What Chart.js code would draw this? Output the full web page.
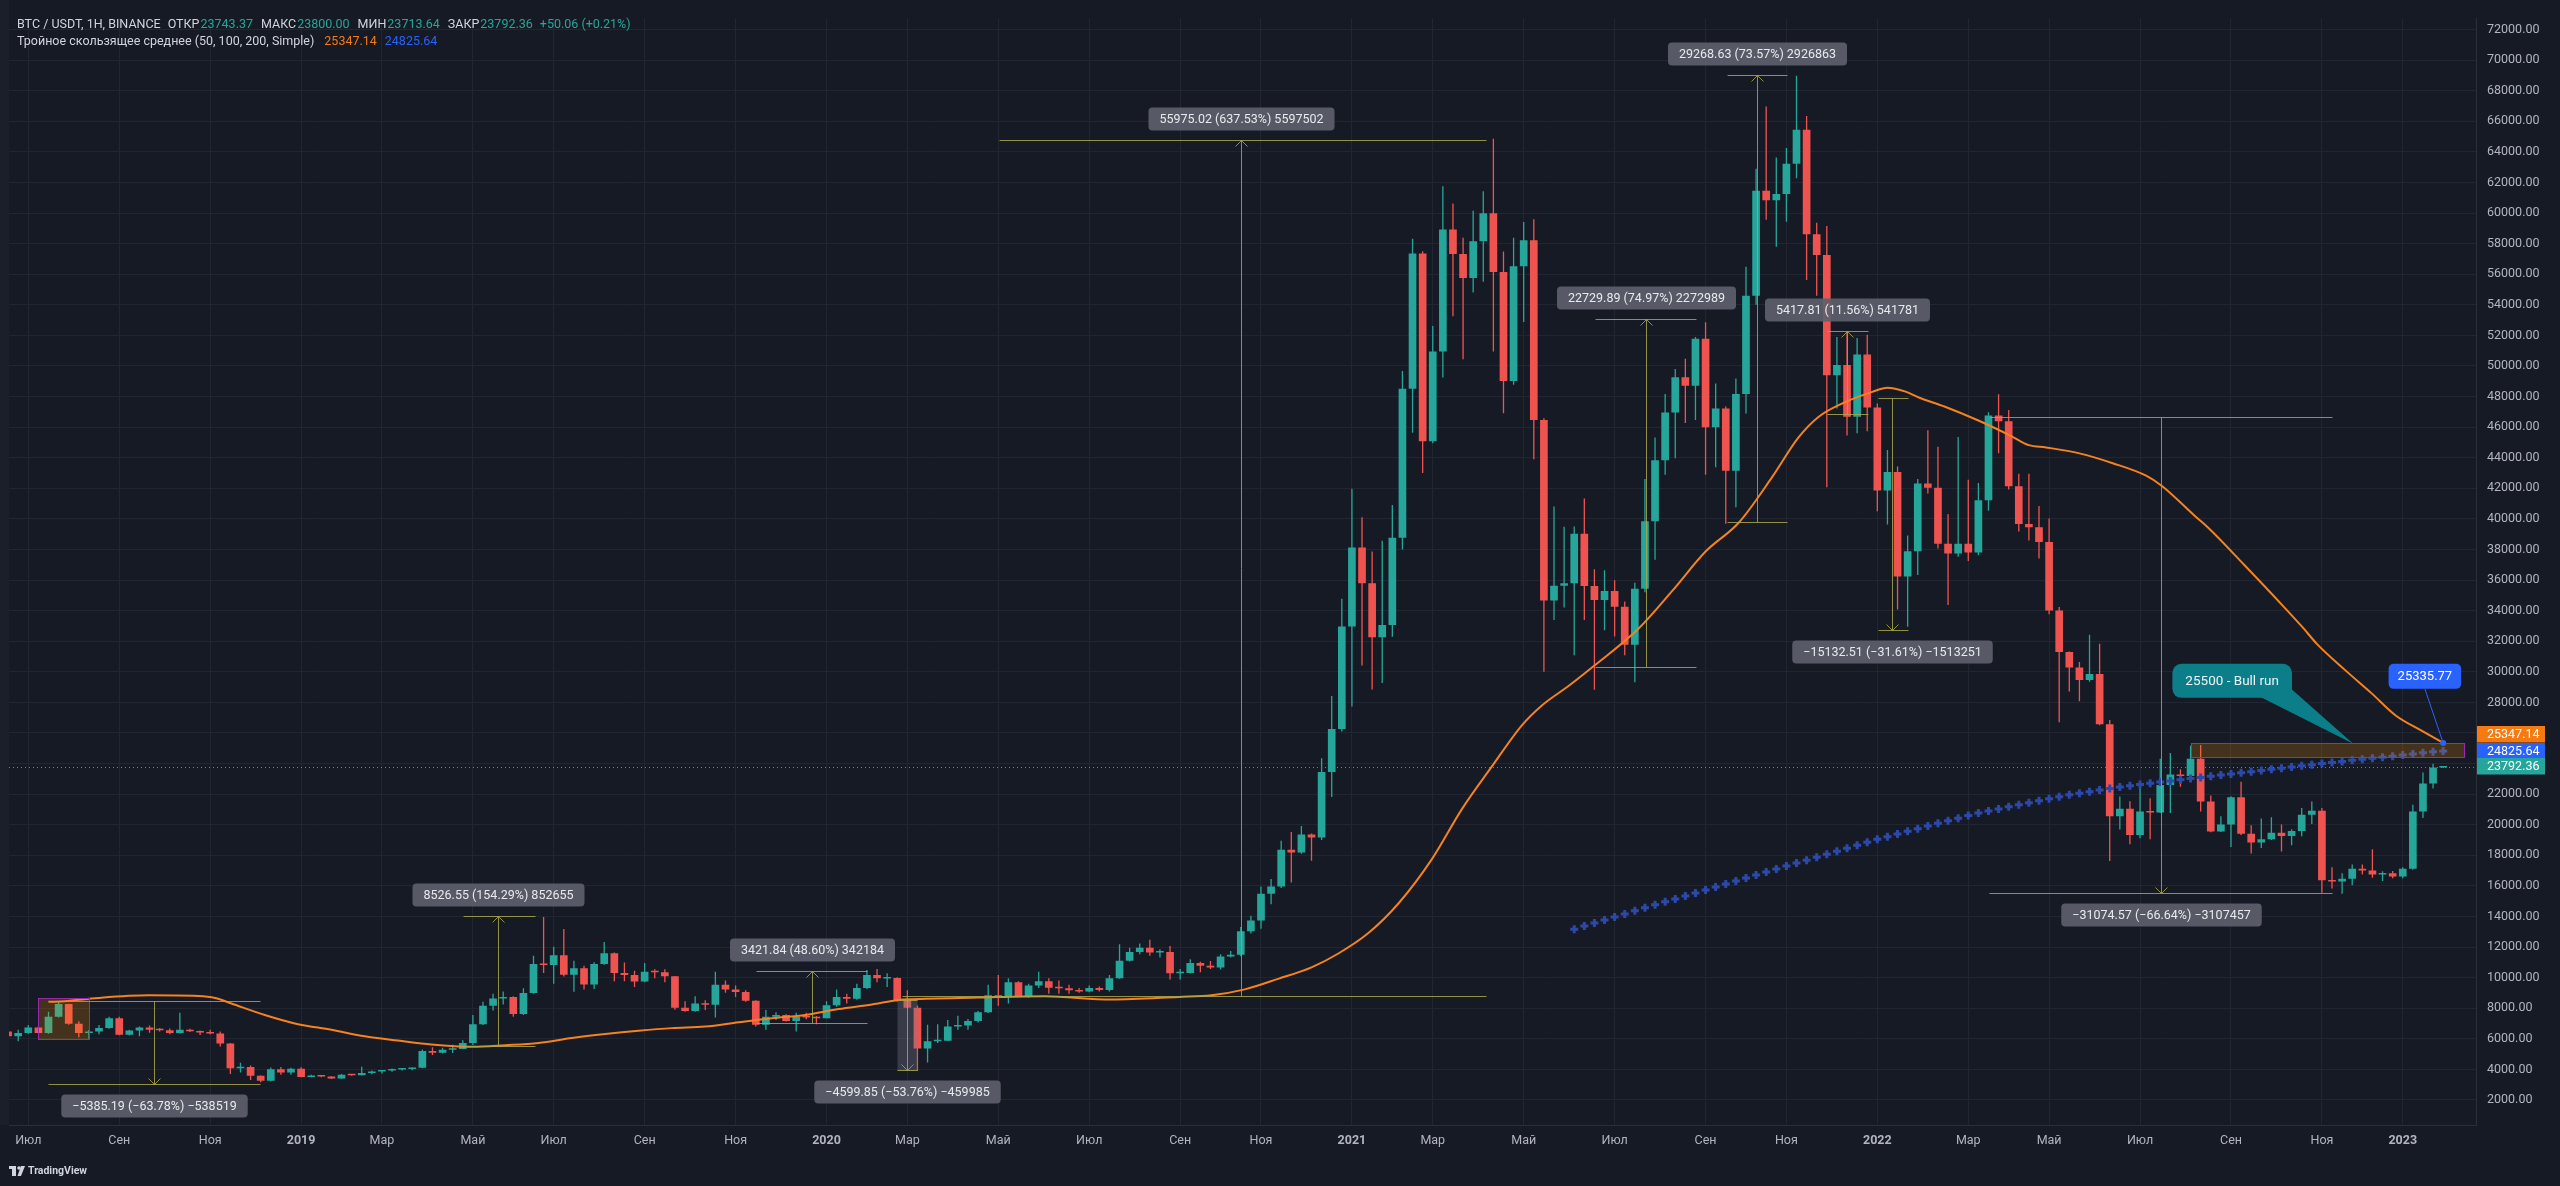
<!DOCTYPE html>
<html>
<head>
<meta charset="utf-8">
<script src="https://cdn.jsdelivr.net/npm/chart.js@4.4.1/dist/chart.umd.min.js"></script>
<style>
  html, body { margin: 0; padding: 0; background: #161a25; overflow: hidden; }
  canvas { display: block; }
</style>
</head>
<body>
<canvas id="chart" width="2560" height="1186"></canvas>
<script>
// BTC/USDT weekly candles, week 0 = 2018-06-18, one entry per week
const opens = [
  6480, 6160, 6380, 6740, 6380, 7450, 8270, 6980, 6380, 6480,
  6700, 7340, 6270, 6550, 6740, 6600, 6560, 6380, 6600, 6500,
  6420, 6350, 5690, 4080, 4160, 3585, 3260, 4010, 3800, 4040,
  3500, 3560, 3530, 3410, 3650, 3620, 3760, 3860, 3920, 3990,
  4020, 4100, 5195, 5090, 5290, 5330, 5730, 6957, 8159, 8630,
  8740, 7630, 9000, 10900, 10820, 11467, 10190, 10608, 9555, 10900,
  11596, 10307, 10178, 9748, 10393, 10350, 10092, 8030, 7820, 8310,
  8230, 9534, 9233, 9061, 8482, 6913, 7450, 7558, 7171, 7450,
  7390, 7350, 8200, 8740, 8620, 9319, 10178, 9950, 9970, 8524,
  8030, 5367, 5839, 5880, 6806, 6870, 7171, 7730, 8847, 8725,
  9706, 8804, 9491, 9770, 9341, 9300, 9169, 9100, 9319, 9200,
  9963, 11102, 11682, 11961, 11639, 11682, 10286, 10307, 10952, 10780,
  10670, 11381, 11500, 13035, 13744, 15480, 15960, 18370, 18180, 19360,
  19170, 23440, 26261, 32963, 38125, 35784, 32258, 33059, 38766, 48512,
  57361, 45081, 50948, 58931, 57329, 55758, 58162, 59990, 56142, 49025,
  56527, 58226, 46460, 34662, 35624, 35784, 39032, 35615, 34692, 35288,
  34258, 31763, 35424, 39844, 43831, 46949, 49254, 48712, 51778, 46000,
  47221, 43153, 48170, 54598, 61459, 60835, 61242, 63222, 65446, 58611,
  57255, 49391, 50069, 46678, 50746, 47276, 41851, 43071, 36237, 37884,
  42309, 42030, 38378, 37734, 38378, 37798, 41213, 46755, 46390, 42137,
  39667, 39452, 38485, 34017, 31290, 30280, 29464, 29849, 26564, 20550,
  21044, 19326, 20873, 20800, 22590, 23279, 23193, 24310, 21518, 19550,
  20014, 21797, 19413, 18833, 19047, 19477, 19262, 19584, 20658, 20916,
  16362, 16280, 16469, 17114, 17006, 16749, 16835, 16620, 17114, 20873,
  22699, 23743
];
const highs = [
  6560, 6590, 6910, 6800, 7770, 8420, 8300, 7150, 6600, 6910,
  7450, 7450, 6600, 6800, 6870, 6700, 6680, 7700, 6650, 6550,
  6600, 6480, 5720, 4440, 4250, 3600, 4120, 4160, 4100, 4140,
  3650, 3640, 3560, 3700, 3700, 4170, 3920, 3950, 4060, 4090,
  4130, 5300, 5450, 5420, 5620, 5900, 7560, 8420, 8954, 9100,
  8790, 9300, 11424, 13970, 12026, 13186, 11100, 10780, 11000, 12326,
  11640, 10995, 10457, 10952, 10550, 10550, 10100, 8460, 8782, 8525,
  10393, 9813, 9491, 9170, 8525, 7880, 7730, 7600, 7700, 7700,
  7500, 8460, 9233, 8950, 9599, 10500, 10565, 10286, 10030, 9169,
  8180, 6913, 6957, 7236, 7515, 7300, 7816, 9534, 10178, 9963,
  9770, 9599, 10393, 9963, 9813, 9534, 9319, 9491, 9420, 10178,
  12176, 11961, 12240, 12486, 11850, 12069, 10560, 11210, 11040, 11090,
  11530, 11740, 13314, 14045, 15960, 16452, 18953, 19530, 19915, 19420,
  24339, 28422, 34778, 41971, 40113, 37868, 38573, 40914, 49666, 58322,
  57500, 52616, 61753, 60630, 58386, 60149, 61432, 64854, 57489, 58386,
  59412, 59590, 46589, 40818, 39491, 39500, 41330, 36700, 36644, 35990,
  34590, 35831, 42610, 45323, 48170, 49798, 50475, 51886, 52862, 48848,
  47357, 49174, 56496, 62896, 66964, 63629, 64252, 68971, 66341, 59371,
  59154, 51886, 52238, 51832, 52048, 47550, 44509, 43426, 38915, 42610,
  45789, 44715, 40311, 45359, 42567, 42352, 46970, 48152, 47120, 42953,
  42953, 40848, 40032, 34233, 31330, 30646, 32428, 31827, 26844, 21839,
  21540, 22418, 21731, 24309, 24696, 23623, 25169, 25212, 21905, 20552,
  21860, 22806, 19960, 20401, 20487, 20014, 19700, 21088, 21518, 21088,
  17222, 16835, 17394, 17394, 18403, 16950, 16970, 17220, 21303, 23408,
  23988, 23800
];
const lows = [
  6100, 5840, 6330, 6350, 6330, 7400, 6915, 6100, 6000, 6300,
  6650, 6225, 6220, 6160, 6400, 6480, 6300, 6340, 6450, 6250,
  6300, 5500, 3700, 3800, 3305, 3160, 3220, 3650, 3650, 3480,
  3480, 3480, 3380, 3390, 3590, 3600, 3680, 3730, 3850, 3930,
  3940, 4080, 4940, 5040, 5080, 5330, 5600, 6900, 7850, 8245,
  7450, 7560, 8950, 10300, 9600, 10080, 9070, 9233, 9250, 10850,
  9770, 9770, 9384, 9700, 9960, 9700, 7900, 7773, 7770, 7880,
  7386, 9018, 8740, 8417, 6800, 6591, 7236, 7128, 6484, 7280,
  6957, 7340, 8100, 8310, 8560, 9260, 9706, 9384, 8417, 8000,
  3900, 4443, 5732, 5860, 6591, 6591, 7064, 7680, 8159, 8310,
  8740, 8680, 9320, 8954, 8954, 8954, 9018, 9050, 9100, 9100,
  9920, 11050, 11530, 11430, 11320, 9878, 9880, 10270, 10350, 10560,
  10530, 11320, 11400, 12890, 13200, 14800, 15870, 16227, 18100, 17650,
  19000, 21815, 26100, 27734, 30420, 28850, 29276, 32300, 37990, 45627,
  43000, 44950, 49249, 53257, 50436, 54796, 55501, 50948, 46909, 48768,
  52872, 43895, 30000, 33380, 34202, 31085, 33389, 28834, 32712, 32306,
  31085, 29322, 35200, 37322, 42882, 43967, 46272, 46461, 42882, 43370,
  39683, 40768, 46895, 54001, 59561, 57798, 59425, 62273, 55628, 54598,
  42068, 47221, 45458, 45594, 45730, 40497, 39629, 34082, 32944, 36337,
  41664, 38056, 34362, 37519, 37240, 37627, 40526, 44285, 41922, 39173,
  38593, 37412, 33760, 26700, 28712, 28068, 29357, 26500, 17622, 19691,
  18724, 19112, 19047, 20765, 20765, 22484, 22800, 20873, 19500, 19520,
  18540, 19320, 18124, 18470, 19000, 18253, 18650, 19250, 20050, 15546,
  15826, 15480, 16040, 16749, 16534, 16319, 16500, 16500, 17050, 20443,
  22377, 23713
];
const closes = [
  6160, 6380, 6740, 6380, 7450, 8270, 6980, 6380, 6480, 6700,
  7340, 6270, 6550, 6740, 6600, 6560, 6380, 6600, 6500, 6420,
  6350, 5690, 4080, 4160, 3585, 3260, 4010, 3800, 4040, 3500,
  3560, 3530, 3410, 3650, 3620, 3760, 3860, 3920, 3990, 4020,
  4100, 5195, 5090, 5290, 5330, 5730, 6957, 8159, 8630, 8740,
  7630, 9000, 10900, 10820, 11467, 10190, 10608, 9555, 10900, 11596,
  10307, 10178, 9748, 10393, 10350, 10092, 8030, 7820, 8310, 8230,
  9534, 9233, 9061, 8482, 6913, 7450, 7558, 7171, 7450, 7390,
  7350, 8200, 8740, 8620, 9319, 10178, 9963, 9970, 8524, 8030,
  5367, 5839, 5880, 6806, 6870, 7171, 7730, 8847, 8725, 9706,
  8804, 9491, 9770, 9341, 9300, 9169, 9100, 9319, 9200, 9963,
  11102, 11682, 11961, 11639, 11682, 10286, 10307, 10952, 10780, 10670,
  11381, 11500, 13035, 13744, 15480, 15960, 18370, 18180, 19360, 19170,
  23440, 26261, 32963, 38125, 35784, 32258, 33059, 38766, 48512, 57361,
  45081, 50948, 58931, 57329, 55758, 58162, 59990, 56142, 49025, 56527,
  58226, 46460, 34662, 35624, 35784, 39032, 35615, 34692, 35288, 34258,
  31763, 35424, 39844, 43831, 46949, 49254, 48712, 51778, 46000, 47221,
  43153, 48170, 54598, 61459, 60835, 61242, 63222, 65446, 58611, 57255,
  49391, 50069, 46678, 50746, 47276, 41851, 43071, 36237, 37884, 42309,
  42030, 38378, 37734, 38378, 37798, 41213, 46755, 46390, 42137, 39667,
  39452, 38485, 34017, 31290, 30280, 29464, 29849, 26564, 20550, 21044,
  19326, 20873, 20800, 22590, 23279, 23193, 24310, 21518, 19550, 20014,
  21797, 19413, 18833, 19047, 19477, 19262, 19584, 20658, 20916, 16362,
  16280, 16469, 17114, 17006, 16749, 16835, 16620, 17114, 20873, 22699,
  23743, 23792
];

// moving average 50 (orange), read at these week positions
const ma50Weeks = [
  4, 5.6, 8.9, 13.9, 18.8, 20.5, 22.1, 25.4, 28.7, 32,
  35.3, 38.6, 41.9, 45.9, 49.2, 52.5, 55.8, 59.1, 62.4, 65.7,
  69, 72.3, 75.6, 78.9, 82.2, 85.5, 88.1, 89.4, 96, 102.6,
  109.2, 115.9, 119.1, 122.4, 125.7, 129, 131.7, 134.6, 137.6, 140.9,
  143.9, 146.8, 149.8, 151.8, 154.5, 157, 161.4, 164.7, 168, 171.3,
  174.6, 177.2, 179.2, 181.8, 184.5, 186, 187.8, 189.1, 191.7, 195,
  198.3, 200, 201.7, 205, 208.3, 211.6, 213.2, 216.4, 217.8, 221.3,
  225.3, 227.1, 228.5, 231.3, 233.9, 236.3, 238.9, 241
];
const ma50Values = [
  8420, 8460, 8675, 8847, 8804, 8675, 8310, 7558, 6957, 6592,
  6162, 5883, 5625, 5474, 5582, 5732, 6054, 6312, 6527, 6699,
  6806, 7085, 7343, 7558, 7945, 8245, 8540, 8589, 8696, 8782,
  8567, 8739, 8847, 9233, 9920, 10673, 11596, 12900, 14850, 17735,
  21036, 23762, 26487, 27800, 29100, 30407, 32847, 35288, 37865, 39764,
  42747, 45323, 46678, 47628, 48306, 48577, 48323, 47937, 47335, 46433,
  45402, 44822, 44672, 44285, 43641, 42824, 42137, 40204, 39387, 37000,
  34200, 32902, 31828, 30110, 28606, 27146, 26136, 25347
];

// moving average 200 (blue crosses), one value per week from week 155
const ma200Start = 155;
const ma200Values = [
  13170, 13370, 13570, 13770, 13970, 14170, 14370, 14565, 14760, 14955,
  15150, 15345, 15540, 15735, 15930, 16125, 16320, 16515, 16710, 16905,
  17100, 17295, 17490, 17685, 17880, 18075, 18270, 18465, 18660, 18855,
  19046, 19220, 19395, 19570, 19745, 19920, 20090, 20260, 20430, 20600,
  20765, 20900, 21035, 21170, 21305, 21440, 21570, 21700, 21830, 21955,
  22053, 22160, 22270, 22375, 22460, 22545, 22630, 22710, 22790, 22865,
  22945, 23021, 23095, 23170, 23245, 23320, 23395, 23470, 23545, 23620,
  23700, 23775, 23850, 23925, 24000, 24070, 24140, 24210, 24280, 24350,
  24415, 24482, 24555, 24628, 24700, 24772, 24826
];

// axis labels
const tickWeeks = [2, 11, 20, 29, 37, 46, 54, 63, 72, 81, 89, 98, 107, 116, 124, 133, 141, 150, 159, 168, 176, 185, 194, 202, 211, 220, 229, 237];
const tickLabels = ['Июл', 'Сен', 'Ноя', '2019', 'Мар', 'Май', 'Июл', 'Сен', 'Ноя', '2020', 'Мар', 'Май', 'Июл', 'Сен', 'Ноя', '2021', 'Мар', 'Май', 'Июл', 'Сен', 'Ноя', '2022', 'Мар', 'Май', 'Июл', 'Сен', 'Ноя', '2023'];
const priceTicks = [2000, 4000, 6000, 8000, 10000, 12000, 14000, 16000, 18000, 20000, 22000, 24000,
  26000, 28000, 30000, 32000, 34000, 36000, 38000, 40000, 42000, 44000, 46000, 48000,
  50000, 52000, 54000, 56000, 58000, 60000, 62000, 64000, 66000, 68000, 70000, 72000];

// drawings on the chart (price range tools, zones, callouts), in week / price units
const rangeTools = [
  { x0: 3.95, x1: 24.9, xm: 14.4, top: 8443, bot: 3058, dir: 'down', text: '\u22125385.19 (\u221263.78%) \u2212538519' },
  { x0: 45.0, x1: 52.1, xm: 48.5, top: 14053, bot: 5526, dir: 'up', text: '8526.55 (154.29%) 852655' },
  { x0: 74.0, x1: 85.0, xm: 79.6, top: 10463, bot: 7041, dir: 'up', text: '3421.84 (48.60%) 342184' },
  { x0: 88.0, x1: 90.0, xm: 89.0, top: 8556, bot: 3956, dir: 'down', shade: true, text: '\u22124599.85 (\u221253.76%) \u2212459985' },
  { x0: 98.1, x1: 146.3, xm: 122.0, top: 64755, bot: 8780, bx0: 88.5, dir: 'up', text: '55975.02 (637.53%) 5597502' },
  { x0: 157.1, x1: 167.1, xm: 162.1, top: 53048, bot: 30318, dir: 'up', text: '22729.89 (74.97%) 2272989' },
  { x0: 170.1, x1: 176.1, xm: 173.1, top: 69052, bot: 39783, dir: 'up', text: '29268.63 (73.57%) 2926863' },
  { x0: 180.0, x1: 184.1, xm: 182.0, top: 52285, bot: 46867, dir: 'up', text: '5417.81 (11.56%) 541781' },
  { x0: 185.1, x1: 188.0, xm: 186.5, top: 47873, bot: 32740, dir: 'down', text: '\u221215132.51 (\u221231.61%) \u22121513251' },
  { x0: 196.1, x1: 230.0, xm: 213.1, top: 46631, bot: 15556, dir: 'down', text: '\u221231074.57 (\u221266.64%) \u22123107457' }
];
const zones = [
  { x0: 2.96, x1: 8.0, top: 8675, bot: 5990 },
  { x0: 216.0, x1: 243.1, top: 25344, bot: 24461 }
];

const UP = '#26a69a';
const DOWN = '#ef5350';
const GRID = '#222632';
const TOOL = 'rgba(168,166,72,0.85)';
const CROSS = '#2c49aa';
const FONT = 'Roboto, "Noto Sans", sans-serif';

Chart.defaults.font.family = FONT;

const candleColor = c => closes[c.dataIndex] >= opens[c.dataIndex] ? UP : DOWN;

function px(chart, i) { return chart.scales.x.getPixelForValue(i); }
function py(chart, v) { return chart.scales.y.getPixelForValue(v); }
function crisp(v) { return Math.round(v) + 0.5; }
function seg(ctx, x0, y0, x1, y1) { ctx.beginPath(); ctx.moveTo(x0, y0); ctx.lineTo(x1, y1); ctx.stroke(); }
function rrect(ctx, x, y, w, h, r) {
    ctx.beginPath();
    ctx.moveTo(x + r, y);
    ctx.arcTo(x + w, y, x + w, y + h, r);
    ctx.arcTo(x + w, y + h, x, y + h, r);
    ctx.arcTo(x, y + h, x, y, r);
    ctx.arcTo(x, y, x + w, y, r);
    ctx.closePath();
}

const overlay = {
    id: 'overlay',
    beforeDraw(chart) {
        const { ctx } = chart;
        ctx.save();
        ctx.fillStyle = '#161a25';
        ctx.fillRect(0, 0, chart.width, chart.height);
        ctx.fillStyle = '#1b1f2a';
        ctx.fillRect(0, 0, 9, chart.chartArea.bottom);
        ctx.restore();
    },
    beforeDatasetsDraw(chart) {
        // last price dotted line
        const { ctx, chartArea: a } = chart;
        const y = crisp(py(chart, 23792.36));
        ctx.save();
        ctx.strokeStyle = UP;
        ctx.lineWidth = 1;
        ctx.setLineDash([1, 3]);
        seg(ctx, a.left, y, a.right, y);
        ctx.restore();
    },
    afterDatasetsDraw(chart) {
        const { ctx, chartArea: a } = chart;
        ctx.save();
        ctx.beginPath();
        ctx.rect(a.left, a.top, a.right - a.left, a.bottom - a.top);
        ctx.clip();

        // rectangles
        zones.forEach(z => {
            const x0 = crisp(px(chart, z.x0)), x1 = crisp(px(chart, z.x1));
            const y0 = crisp(py(chart, z.top)), y1 = crisp(py(chart, z.bot));
            ctx.fillStyle = 'rgba(255,152,0,0.2)';
            ctx.fillRect(x0, y0, x1 - x0, y1 - y0);
            ctx.strokeStyle = '#9c27b0';
            ctx.lineWidth = 1;
            ctx.strokeRect(x0, y0, x1 - x0, y1 - y0);
        });

        // price range tools
        ctx.font = `12.5px ${FONT}`;
        ctx.textAlign = 'center';
        ctx.textBaseline = 'middle';
        rangeTools.forEach(t => {
            const x0 = crisp(px(chart, t.x0)), x1 = crisp(px(chart, t.x1)), xm = crisp(px(chart, t.xm));
            const yt = crisp(py(chart, t.top)), yb = crisp(py(chart, t.bot));
            if (t.shade) {
                ctx.fillStyle = 'rgba(120,123,134,0.35)';
                ctx.fillRect(x0, yt, x1 - x0, yb - yt);
            }
            ctx.strokeStyle = TOOL;
            ctx.lineWidth = 1;
            seg(ctx, x0, yt, x1, yt);
            seg(ctx, t.bx0 != null ? crisp(px(chart, t.bx0)) : x0, yb, x1, yb);
            seg(ctx, xm, yt, xm, yb);
            const ay = t.dir === 'up' ? yt : yb;
            const s = t.dir === 'up' ? 1 : -1;
            ctx.beginPath();
            ctx.moveTo(xm - 6, ay + 6 * s);
            ctx.lineTo(xm, ay);
            ctx.lineTo(xm + 6, ay + 6 * s);
            ctx.stroke();

            const w = ctx.measureText(t.text).width + 22, h = 23;
            const ly = t.dir === 'up' ? yt - 10 - h : yb + 10;
            ctx.fillStyle = 'rgba(93,96,107,0.92)';
            rrect(ctx, xm - w / 2, ly, w, h, 4);
            ctx.fill();
            ctx.fillStyle = '#e8e9ec';
            ctx.fillText(t.text, xm, ly + h / 2 + 0.5);
        });

        // callout "25500 - Bull run"
        {
            const tx = px(chart, 232.1), ty = py(chart, 25290);
            const bx = px(chart, 214.2), by = py(chart, 30520);
            ctx.font = `13.5px ${FONT}`;
            const text = '25500 - Bull run';
            const w = ctx.measureText(text).width + 26, h = 34;
            ctx.fillStyle = '#0c7e89';
            rrect(ctx, bx, by, w, h, 9);
            ctx.fill();
            ctx.beginPath();
            ctx.moveTo(bx + w - 32, by + h - 1);
            ctx.lineTo(bx + w - 2, by + h - 10);
            ctx.lineTo(tx, ty);
            ctx.closePath();
            ctx.fill();
            ctx.fillStyle = '#eef6f7';
            ctx.textAlign = 'left';
            ctx.fillText(text, bx + 13, by + h / 2 + 0.5);
        }

        // callout "25335.77"
        {
            const tx = px(chart, 241), ty = py(chart, 25347.14);
            const bx = px(chart, 235.6), by = py(chart, 30520);
            ctx.font = `13px ${FONT}`;
            const text = '25335.77';
            const w = ctx.measureText(text).width + 18, h = 25;
            ctx.strokeStyle = '#2962ff';
            ctx.lineWidth = 1;
            seg(ctx, bx + w / 2, by + h, tx, ty);
            ctx.fillStyle = '#2962ff';
            rrect(ctx, bx, by, w, h, 5);
            ctx.fill();
            ctx.beginPath();
            ctx.arc(tx, ty, 3, 0, Math.PI * 2);
            ctx.fill();
            ctx.fillStyle = '#ffffff';
            ctx.textAlign = 'center';
            ctx.fillText(text, bx + w / 2, by + h / 2 + 0.5);
        }
        ctx.restore();
    },
    afterDraw(chart) {
        const { ctx, chartArea: a } = chart;
        ctx.save();

        // price tags on the right axis
        const blueY = py(chart, 24825.64);
        const tags = [
            { y: blueY - 16.5, text: '25347.14', color: '#f57a12' },
            { y: blueY, text: '24825.64', color: '#2962ff' },
            { y: py(chart, 23792.36), text: '23792.36', color: UP }
        ];
        ctx.font = `12.5px ${FONT}`;
        ctx.textAlign = 'left';
        ctx.textBaseline = 'middle';
        tags.forEach(t => {
            ctx.fillStyle = t.color;
            ctx.fillRect(a.right + 1, Math.round(t.y - 8.25), 68, 16.5);
            ctx.fillStyle = '#ffffff';
            ctx.fillText(t.text, a.right + 11, t.y + 0.5);
        });

        // legend, top left
        let x = 17;
        const put = (text, color, gap, y) => {
            ctx.fillStyle = color;
            ctx.fillText(text, x, y);
            x += ctx.measureText(text).width + gap;
        };
        const LBL = '#d1d4dc';
        put('BTC / USDT, 1H, BINANCE', LBL, 7, 25);
        put('ОТКР', LBL, 1, 25); put('23743.37', UP, 8, 25);
        put('МАКС', LBL, 1, 25); put('23800.00', UP, 8, 25);
        put('МИН', LBL, 1, 25); put('23713.64', UP, 8, 25);
        put('ЗАКР', LBL, 1, 25); put('23792.36', UP, 7, 25);
        put('+50.06 (+0.21%)', UP, 0, 25);
        x = 17;
        put('Тройное скользящее среднее (50, 100, 200, Simple)', LBL, 10, 42);
        put('25347.14', '#f57a12', 8, 42);
        put('24825.64', '#2962ff', 0, 42);

        // footer logo
        ctx.fillStyle = '#d1d4dc';
        ctx.fillRect(9, 1166, 7, 3);
        ctx.fillRect(12, 1166, 4, 10);
        ctx.beginPath();
        ctx.arc(19, 1168, 1.8, 0, Math.PI * 2);
        ctx.fill();
        ctx.beginPath();
        ctx.moveTo(21, 1166); ctx.lineTo(25, 1166); ctx.lineTo(21, 1176); ctx.lineTo(17.5, 1176);
        ctx.closePath();
        ctx.fill();
        ctx.font = `bold 10.5px ${FONT}`;
        ctx.fillText('TradingView', 28, 1171.5);
        ctx.restore();
    }
};

new Chart(document.getElementById('chart'), {
    type: 'bar',
    data: {
        datasets: [
            {
                type: 'line',
                data: ma200Values.map((v, k) => ({ x: ma200Start + k, y: v })),
                showLine: false,
                pointStyle: 'cross',
                pointRadius: 4,
                pointBorderWidth: 3,
                borderColor: CROSS,
                pointBorderColor: CROSS,
                order: 0
            },
            {
                type: 'line',
                data: ma50Weeks.map((w, k) => ({ x: w, y: ma50Values[k] })),
                borderColor: '#f5821f',
                borderWidth: 2,
                pointRadius: 0,
                cubicInterpolationMode: 'monotone',
                order: 1
            },
            {
                type: 'bar',
                data: closes.map((c, i) => ({ x: i, y: [opens[i], c] })),
                backgroundColor: candleColor,
                grouped: false,
                categoryPercentage: 1,
                barPercentage: 0.76,
                minBarLength: 1.5,
                borderWidth: 0,
                order: 2
            },
            {
                type: 'bar',
                data: closes.map((c, i) => ({ x: i, y: [lows[i], highs[i]] })),
                backgroundColor: candleColor,
                grouped: false,
                categoryPercentage: 1,
                barPercentage: 0.13,
                borderWidth: 0,
                order: 3
            }
        ]
    },
    options: {
        responsive: false,
        animation: false,
        events: [],
        layout: { padding: { left: 9, top: 2, right: 0, bottom: 0 } },
        plugins: { legend: { display: false }, tooltip: { enabled: false } },
        scales: {
            x: {
                type: 'linear',
                min: 0.09,
                max: 244.25,
                offset: false,
                bounds: 'data',
                afterBuildTicks: s => { s.ticks = tickWeeks.map(v => ({ value: v })); },
                afterFit: s => { s.height = 61; },
                ticks: {
                    autoSkip: false,
                    maxRotation: 0,
                    padding: 8,
                    color: '#b2b5be',
                    callback: v => tickLabels[tickWeeks.indexOf(v)],
                    font: c => {
                        const lbl = c.tick ? tickLabels[tickWeeks.indexOf(c.tick.value)] : '';
                        return { family: FONT, size: 12.5, weight: /^\d{4}$/.test(lbl) ? 'bold' : 'normal' };
                    }
                },
                grid: { color: GRID, drawTicks: false, offset: false },
                border: { color: '#2a2e39' }
            },
            y: {
                position: 'right',
                min: 364,
                max: 72722,
                bounds: 'data',
                afterBuildTicks: s => { s.ticks = priceTicks.map(v => ({ value: v })); },
                afterFit: s => { s.width = 84; },
                ticks: {
                    padding: 11,
                    color: '#b2b5be',
                    font: { family: FONT, size: 12.5 },
                    callback: v => v.toFixed(2)
                },
                grid: { color: GRID, drawTicks: false },
                border: { color: '#2a2e39' }
            }
        }
    },
    plugins: [overlay]
});
</script>
</body>
</html>
